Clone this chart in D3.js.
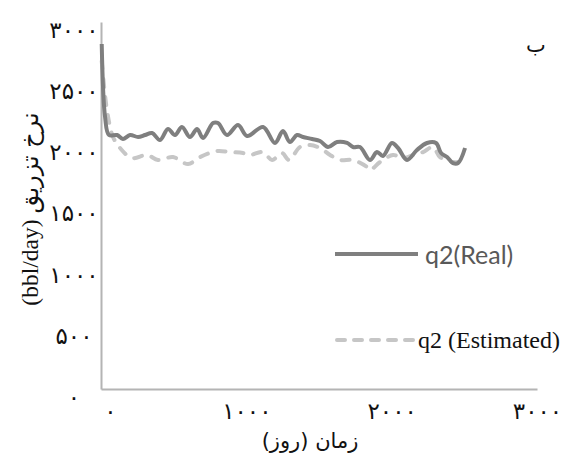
<!DOCTYPE html>
<html>
<head>
<meta charset="utf-8">
<script src="https://cdn.jsdelivr.net/npm/d3@7"></script>
<style>
  body { margin: 0; background: #fff; }
  svg { display: block; }
</style>
</head>
<body>
<svg id="chart" width="563" height="466"></svg>
<script>
// q2 real rate
var realDays = [5, 28, 55, 110, 151, 200, 255, 303, 351, 406, 461, 509, 557, 612, 661, 702, 771, 805, 867, 943,
    1005, 1115, 1197, 1252, 1300, 1349, 1390, 1452, 1507, 1562, 1624, 1693, 1734, 1782, 1851, 1899, 1940,
    2002, 2044, 2106, 2174, 2243, 2305, 2340, 2381, 2422, 2457, 2505];
var realRate = [2820, 2223, 2076, 2076, 2044, 2076, 2060, 2076, 2093, 2035, 2125, 2076, 2142, 2060, 2125, 2052, 2174, 2174, 2076, 2158,
    2068, 2142, 2011, 2109, 2019, 2076, 2060, 2044, 2027, 1978, 2019, 2011, 1978, 1978, 1872, 1937, 1905,
    2011, 1970, 1872, 1954, 2011, 2011, 1929, 1896, 1847, 1847, 1970];

// q2 estimated rate
var estDays = [5, 41, 83, 131, 213, 317, 392, 495, 599, 681, 798, 888, 977, 1025, 1115, 1177, 1245, 1294, 1369, 1438,
    1507, 1576, 1645, 1734, 1830, 1851, 1920, 2009, 2078, 2147, 2216, 2284, 2333, 2422, 2457];
var estRate = [2680, 2281, 2060, 1970, 1888, 1913, 1872, 1896, 1839, 1896, 1945, 1937, 1929, 1913, 1937, 1872, 1929, 1872, 1978, 1994,
    1970, 1913, 1872, 1872, 1815, 1790, 1855, 1913, 1888, 1913, 1937, 1978, 1896, 1855, 1855];

var yTicks = [0, 500, 1000, 1500, 2000, 2500, 3000];
var yTickLabels = ['۰', '۵۰۰', '۱۰۰۰', '۱۵۰۰', '۲۰۰۰', '۲۵۰۰', '۳۰۰۰'];
var xTicks = [0, 1000, 2000, 3000];
var xTickLabels = ['۰', '۱۰۰۰', '۲۰۰۰', '۳۰۰۰'];

var seriesNames = ['q2(Real)', 'q2 (Estimated)'];

var svg = d3.select('svg#chart');

var x = d3.scaleLinear().domain([0, 3000]).range([101, 537]);
var y = d3.scaleLinear().domain([0, 3000]).range([389, 22]);

// axes: only the lines, labels in persian digits
var yAxis = d3.axisLeft(y).tickValues(yTicks).tickSize(0)
    .tickFormat(function(d, i){ return yTickLabels[i]; });
var xAxis = d3.axisBottom(x).tickValues(xTicks).tickSize(0)
    .tickFormat(function(d, i){ return xTickLabels[i]; });

var gy = svg.append('g').attr('transform', 'translate(101,0)').call(yAxis);
gy.select('.domain').attr('stroke', '#b4b4b4').attr('stroke-width', 2);
// labels are centred in a column left of the axis
gy.selectAll('.tick text')
    .attr('x', -27)
    .attr('text-anchor', 'middle')
    .attr('dy', '0.32em')
    .attr('transform', 'translate(0,8)')
    .style('font-family', 'DejaVu Sans')
    .style('font-size', '23px')
    .style('fill', '#111');

var gx = svg.append('g').attr('transform', 'translate(0,389)').call(xAxis);
gx.select('.domain').attr('stroke', '#b4b4b4').attr('stroke-width', 2);
gx.selectAll('.tick text')
    .attr('y', 23)
    .attr('dy', '0.32em')
    .attr('transform', function(d){ return 'translate(' + (d === 0 ? 9 : 0) + ',0)'; })
    .style('font-family', 'DejaVu Sans')
    .style('font-size', '23px')
    .style('fill', '#111');

// axis titles
var yTitle = svg.append('text')
    .attr('transform', 'translate(30,209) rotate(-90)')
    .attr('text-anchor', 'middle')
    .attr('dominant-baseline', 'central')
    .style('fill', '#111');
yTitle.append('tspan')
    .style('font-family', 'Liberation Serif')
    .style('font-size', '23.5px')
    .text('(bbl/day) ');
yTitle.append('tspan')
    .style('font-family', 'DejaVu Sans')
    .style('font-size', '24px')
    .text('نرخ تزریق');

svg.append('text')
    .attr('x', 310)
    .attr('y', 441)
    .attr('text-anchor', 'middle')
    .attr('dominant-baseline', 'central')
    .attr('direction', 'rtl')
    .style('font-family', 'DejaVu Sans')
    .style('font-size', '21px')
    .style('fill', '#111')
    .text('زمان (روز)');

svg.append('text')
    .attr('x', 536)
    .attr('y', 45)
    .attr('text-anchor', 'middle')
    .attr('dominant-baseline', 'central')
    .style('font-family', 'DejaVu Sans')
    .style('font-size', '21px')
    .style('fill', '#111')
    .text('ب');

var line = d3.line()
    .x(function(d){ return x(d[0]); })
    .y(function(d){ return y(d[1]); })
    .curve(d3.curveCatmullRom);

var estData = d3.zip(estDays, estRate);
var realData = d3.zip(realDays, realRate);

svg.append('path')
    .datum(estData)
    .attr('d', line)
    .attr('fill', 'none')
    .attr('stroke', '#c6c6c6')
    .attr('stroke-width', 4)
    .attr('stroke-linecap', 'round')
    .attr('stroke-dasharray', '8,10');

svg.append('path')
    .datum(realData)
    .attr('d', line)
    .attr('fill', 'none')
    .attr('stroke', '#7f7f7f')
    .attr('stroke-width', 4)
    .attr('stroke-linejoin', 'round');

// legend
var legend = svg.append('g');
legend.append('line')
    .attr('x1', 335).attr('x2', 418).attr('y1', 254).attr('y2', 254)
    .attr('stroke', '#7f7f7f').attr('stroke-width', 4);
legend.append('text')
    .attr('x', 425).attr('y', 254)
    .attr('dominant-baseline', 'central')
    .style('font-family', 'Lato, Open Sans, sans-serif')
    .style('font-size', '25px')
    .style('fill', '#595959')
    .text(seriesNames[0]);

legend.append('line')
    .attr('x1', 337).attr('x2', 414).attr('y1', 340).attr('y2', 340)
    .attr('stroke', '#c6c6c6').attr('stroke-width', 4)
    .attr('stroke-linecap', 'round')
    .attr('stroke-dasharray', '8,9');
legend.append('text')
    .attr('x', 418).attr('y', 340)
    .attr('dominant-baseline', 'central')
    .style('font-family', 'Liberation Serif, serif')
    .style('font-size', '24px')
    .style('fill', '#111')
    .text(seriesNames[1]);
</script>
</body>
</html>
